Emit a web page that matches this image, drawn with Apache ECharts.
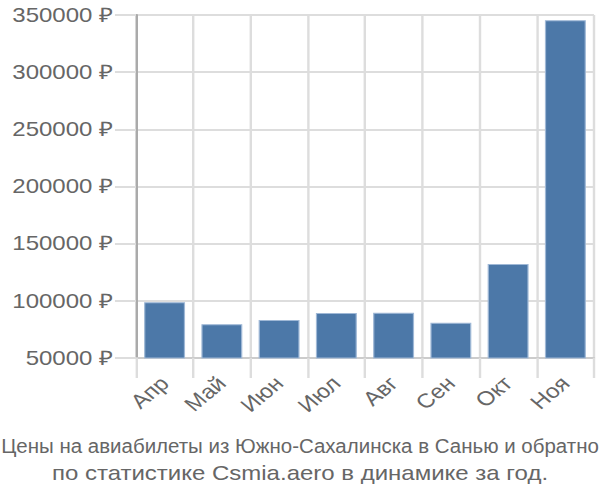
<!DOCTYPE html>
<html>
<head>
<meta charset="utf-8">
<script src="https://cdn.jsdelivr.net/npm/echarts@6/dist/echarts.min.js"></script>
<style>
html,body{margin:0;padding:0;background:#fff;overflow:hidden;width:600px;height:500px}
#c{width:500px;height:500px;transform:scaleX(1.2);transform-origin:0 0}
</style>
</head>
<body>
<div id="c"></div>
<script>
var categories = ['Апр','Май','Июн','Июл','Авг','Сен','Окт','Ноя'];
var prices = [98700, 79500, 83200, 89400, 89600, 80900, 132200, 345500];
var yTicks = [50000, 100000, 150000, 200000, 250000, 300000, 350000];
var titleLines = ['Цены на авиабилеты из Южно-Сахалинска в Санью и обратно', 'по статистике Csmia.aero в динамике за год.'];

var FONT = 'Liberation Sans, Arial, sans-serif';
var chart = echarts.init(document.getElementById('c'), null, {renderer:'svg', width:500, height:500});
chart.setOption({
  animation: false,
  graphic: [
    {type:'text', x:250, y:446, scaleX:0.854,
     style:{text:titleLines[0], fontSize:20, fontFamily:FONT, fill:'#666', align:'center', verticalAlign:'middle', textAlign:'center', textVerticalAlign:'middle'}},
    {type:'text', x:250, y:473,
     style:{text:titleLines[1], fontSize:20, fontFamily:FONT, fill:'#666', align:'center', verticalAlign:'middle', textAlign:'center', textVerticalAlign:'middle'}}
  ],
  grid: {left:113.3, right:5, top:15, bottom:142, containLabel:false},
  xAxis: {
    type:'category',
    data: categories,
    axisLine:{show:true, lineStyle:{color:'#ccc', width:2}},
    axisTick:{show:true, length:20, lineStyle:{color:'#ddd', width:2}},
    splitLine:{show:true, lineStyle:{color:'#ddd', width:2}},
    axisLabel:{rotate:45, margin:22, fontFamily:FONT, fontSize:20, color:'#666'}
  },
  yAxis: {
    type:'value',
    min: yTicks[0], max: yTicks[yTicks.length-1], interval: 50000,
    axisLine:{show:true, lineStyle:{color:'#aaa', width:2}},
    axisTick:{show:true, length:17.5, lineStyle:{color:'#ddd', width:2}},
    splitLine:{show:true, lineStyle:{color:'#ddd', width:2}},
    axisLabel:{margin:19, fontFamily:FONT, fontSize:20, color:'#666', formatter:function(v){return v + ' ₽';}}
  },
  series: [{
    type:'bar',
    data: prices,
    barWidth:'71.5%',
    itemStyle:{color:'#4c78a8', borderColor:'#9fb8d6', borderWidth:1}
  }]
});
</script>
</body>
</html>
